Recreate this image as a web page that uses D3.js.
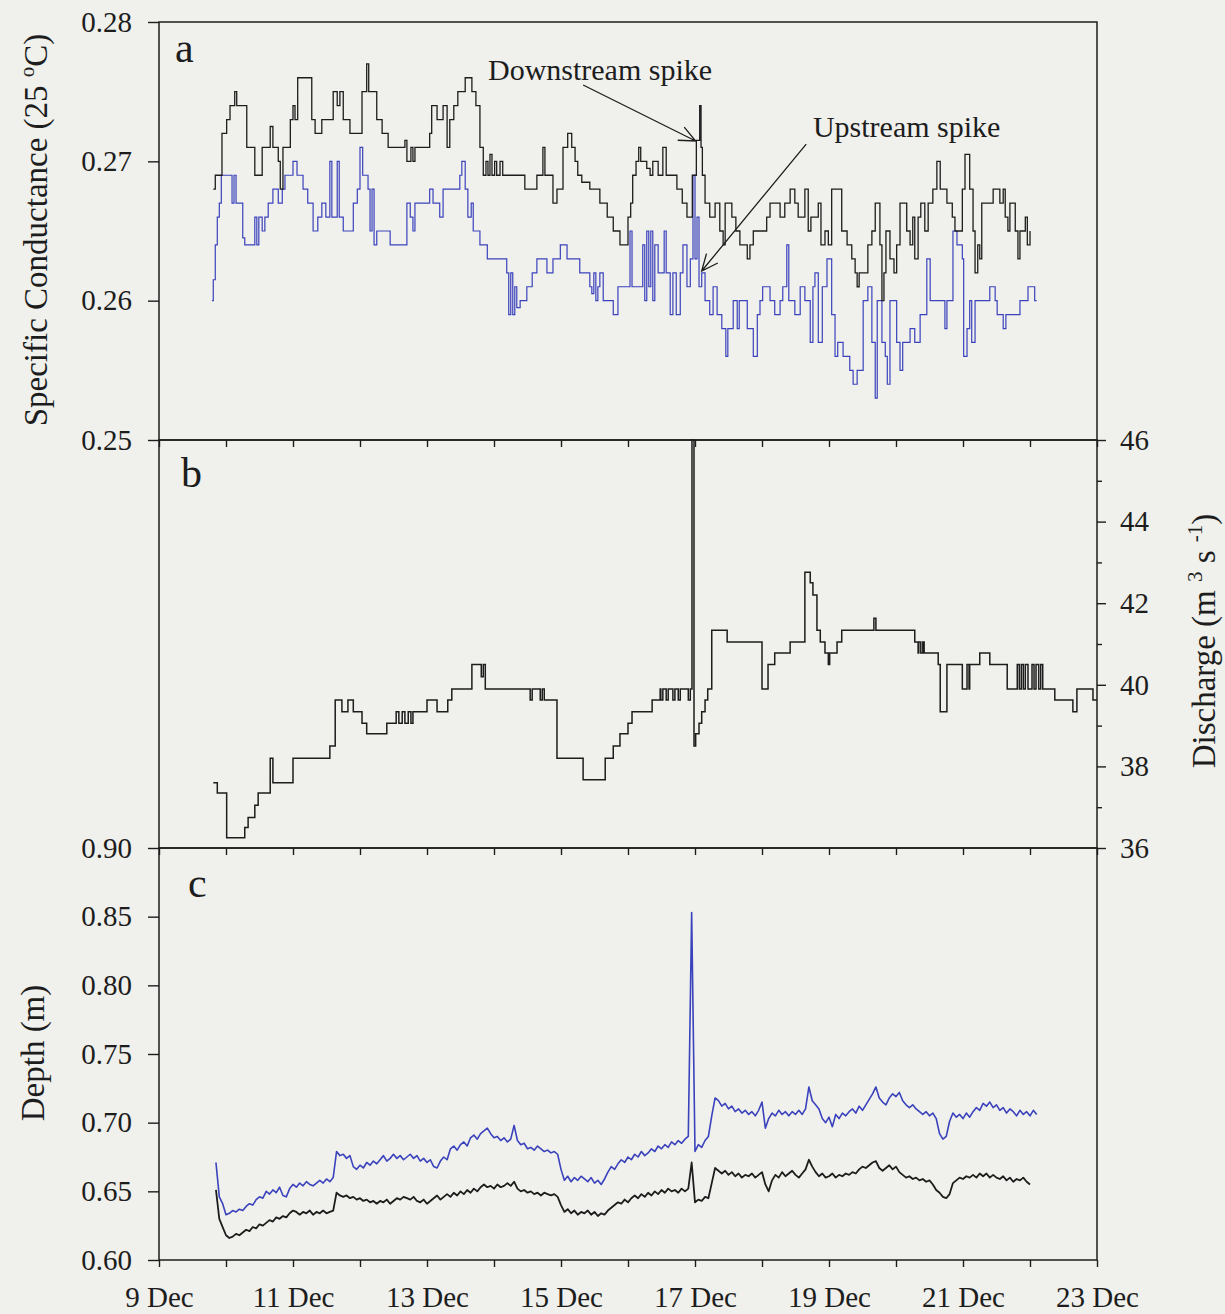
<!DOCTYPE html>
<html>
<head>
<meta charset="utf-8">
<title>Specific conductance, discharge and depth, 9–23 Dec</title>
<script src="https://cdn.jsdelivr.net/npm/d3@7"></script>
<style>
  html, body { margin: 0; padding: 0; background: #f0f0ec; }
  svg { display: block; }
</style>
</head>
<body>
<svg id="chart" width="1225" height="1314"></svg>
<script>
// ---------------------------------------------------------------------------
// Data. Time is the fractional day of December.
// ---------------------------------------------------------------------------
const dayTicks = [9, 10, 11, 12, 13, 14, 15, 16, 17, 18, 19, 20, 21, 22, 23];
const dayLabels = [9, 11, 13, 15, 17, 19, 21, 23];
const condTicks = [0.25, 0.26, 0.27, 0.28];
const dischargeTicks = [36, 38, 40, 42, 44, 46];
const dischargeMinorTicks = [37, 39, 41, 43, 45];
const depthTicks = [0.60, 0.65, 0.70, 0.75, 0.80, 0.85, 0.90];

// (a) specific conductance at 25 °C, logged as [day, value] steps
const condDownstream = [[9.81,0.268],[9.84,0.269],[9.94,0.272],[10.01,0.273],[10.06,0.274],[10.13,0.275],[10.16,0.274],[10.31,0.271],[10.43,0.269],[10.54,0.271],[10.66,0.2725],[10.70,0.271],[10.78,0.270],[10.81,0.268],[10.85,0.271],[10.96,0.273],[11.00,0.274],[11.03,0.273],[11.07,0.276],[11.28,0.273],[11.33,0.272],[11.43,0.273],[11.60,0.275],[11.66,0.274],[11.70,0.275],[11.75,0.273],[11.85,0.272],[12.03,0.275],[12.10,0.277],[12.13,0.275],[12.25,0.273],[12.33,0.272],[12.42,0.271],[12.67,0.2715],[12.70,0.270],[12.76,0.271],[12.79,0.270],[12.82,0.271],[13.04,0.272],[13.07,0.274],[13.15,0.273],[13.24,0.274],[13.30,0.271],[13.34,0.273],[13.40,0.274],[13.46,0.275],[13.57,0.276],[13.67,0.275],[13.73,0.274],[13.79,0.271],[13.84,0.269],[13.88,0.270],[13.91,0.269],[13.94,0.2705],[13.97,0.269],[14.01,0.270],[14.04,0.269],[14.09,0.270],[14.13,0.269],[14.46,0.268],[14.64,0.269],[14.73,0.271],[14.76,0.269],[14.88,0.267],[14.94,0.268],[15.03,0.271],[15.10,0.272],[15.16,0.271],[15.21,0.270],[15.25,0.269],[15.31,0.2685],[15.43,0.268],[15.58,0.267],[15.69,0.266],[15.78,0.265],[15.88,0.264],[16.00,0.266],[16.04,0.267],[16.07,0.269],[16.12,0.270],[16.16,0.271],[16.19,0.270],[16.28,0.2695],[16.33,0.269],[16.37,0.270],[16.45,0.269],[16.52,0.271],[16.57,0.269],[16.73,0.268],[16.81,0.267],[16.88,0.266],[16.96,0.269],[17.02,0.2715],[17.07,0.274],[17.09,0.271],[17.11,0.269],[17.15,0.267],[17.22,0.266],[17.30,0.267],[17.37,0.265],[17.42,0.264],[17.45,0.267],[17.55,0.266],[17.61,0.265],[17.67,0.264],[17.78,0.263],[17.82,0.264],[17.87,0.265],[18.07,0.266],[18.12,0.267],[18.27,0.266],[18.34,0.267],[18.42,0.268],[18.49,0.267],[18.54,0.266],[18.64,0.268],[18.69,0.265],[18.73,0.266],[18.84,0.267],[18.88,0.264],[18.94,0.265],[18.99,0.264],[19.04,0.268],[19.19,0.265],[19.27,0.264],[19.34,0.263],[19.39,0.262],[19.42,0.261],[19.45,0.262],[19.58,0.264],[19.64,0.265],[19.69,0.267],[19.76,0.264],[19.79,0.260],[19.82,0.262],[19.85,0.265],[19.91,0.263],[19.97,0.262],[20.01,0.264],[20.06,0.267],[20.16,0.265],[20.21,0.264],[20.25,0.266],[20.28,0.263],[20.33,0.266],[20.37,0.267],[20.43,0.265],[20.48,0.267],[20.55,0.268],[20.61,0.270],[20.66,0.268],[20.76,0.267],[20.84,0.266],[20.88,0.265],[20.99,0.268],[21.03,0.2705],[21.10,0.268],[21.15,0.265],[21.18,0.262],[21.22,0.264],[21.25,0.263],[21.28,0.267],[21.45,0.268],[21.55,0.267],[21.60,0.268],[21.63,0.266],[21.67,0.265],[21.70,0.267],[21.78,0.265],[21.82,0.263],[21.85,0.265],[21.93,0.266],[21.96,0.264],[22.00,0.265]];

const condUpstream = [[9.79,0.260],[9.81,0.2615],[9.84,0.264],[9.87,0.266],[9.90,0.267],[9.93,0.269],[10.09,0.267],[10.12,0.269],[10.15,0.267],[10.25,0.2645],[10.28,0.264],[10.43,0.266],[10.46,0.264],[10.49,0.266],[10.54,0.265],[10.58,0.266],[10.63,0.267],[10.70,0.268],[10.78,0.267],[10.84,0.268],[10.88,0.269],[11.00,0.270],[11.06,0.269],[11.15,0.268],[11.22,0.267],[11.30,0.265],[11.37,0.266],[11.43,0.267],[11.49,0.266],[11.55,0.270],[11.58,0.266],[11.66,0.270],[11.69,0.266],[11.75,0.265],[11.90,0.267],[11.96,0.268],[12.00,0.271],[12.04,0.269],[12.12,0.268],[12.15,0.265],[12.18,0.268],[12.21,0.264],[12.25,0.265],[12.45,0.264],[12.70,0.267],[12.75,0.266],[12.79,0.265],[12.82,0.267],[13.04,0.268],[13.09,0.267],[13.19,0.266],[13.24,0.268],[13.49,0.269],[13.52,0.270],[13.57,0.268],[13.61,0.266],[13.66,0.267],[13.69,0.265],[13.79,0.264],[13.90,0.263],[14.19,0.262],[14.22,0.259],[14.25,0.262],[14.28,0.259],[14.31,0.261],[14.34,0.2595],[14.39,0.260],[14.49,0.261],[14.57,0.262],[14.64,0.263],[14.79,0.262],[14.88,0.263],[14.99,0.264],[15.09,0.263],[15.28,0.262],[15.43,0.261],[15.46,0.2605],[15.49,0.262],[15.52,0.260],[15.55,0.261],[15.58,0.262],[15.63,0.260],[15.78,0.259],[15.85,0.261],[16.03,0.265],[16.06,0.261],[16.22,0.264],[16.25,0.260],[16.28,0.265],[16.31,0.261],[16.34,0.265],[16.37,0.260],[16.40,0.264],[16.45,0.262],[16.54,0.265],[16.57,0.262],[16.63,0.259],[16.67,0.262],[16.72,0.259],[16.78,0.262],[16.82,0.264],[16.88,0.261],[16.93,0.263],[16.97,0.269],[17.00,0.263],[17.03,0.266],[17.06,0.261],[17.10,0.262],[17.15,0.260],[17.22,0.259],[17.27,0.261],[17.33,0.259],[17.40,0.258],[17.46,0.256],[17.49,0.258],[17.57,0.260],[17.63,0.258],[17.66,0.260],[17.78,0.258],[17.87,0.256],[17.93,0.259],[17.97,0.260],[18.01,0.261],[18.12,0.260],[18.19,0.259],[18.27,0.260],[18.31,0.261],[18.37,0.264],[18.40,0.260],[18.49,0.259],[18.57,0.261],[18.64,0.260],[18.72,0.257],[18.76,0.261],[18.79,0.262],[18.84,0.257],[18.90,0.261],[18.97,0.263],[19.04,0.259],[19.09,0.256],[19.13,0.257],[19.21,0.256],[19.31,0.255],[19.36,0.254],[19.42,0.255],[19.51,0.260],[19.58,0.261],[19.64,0.257],[19.69,0.253],[19.72,0.260],[19.79,0.257],[19.84,0.256],[19.87,0.254],[19.91,0.260],[20.01,0.257],[20.06,0.255],[20.10,0.257],[20.21,0.258],[20.28,0.257],[20.36,0.259],[20.46,0.263],[20.51,0.260],[20.73,0.258],[20.76,0.260],[20.85,0.265],[20.91,0.264],[20.99,0.263],[21.01,0.256],[21.06,0.258],[21.10,0.260],[21.13,0.257],[21.18,0.260],[21.40,0.261],[21.48,0.260],[21.51,0.259],[21.60,0.258],[21.64,0.259],[21.85,0.260],[21.97,0.261],[22.07,0.260],[22.10,0.260]];

// (b) discharge, m3 s-1
const discharge = [[9.81,37.6],[9.87,37.35],[10.01,36.25],[10.28,36.5],[10.33,36.75],[10.43,37.05],[10.48,37.35],[10.66,38.2],[10.70,37.6],[11.00,38.2],[11.55,38.5],[11.63,39.63],[11.73,39.34],[11.82,39.63],[11.90,39.34],[12.03,39.06],[12.10,38.8],[12.40,39.06],[12.54,39.34],[12.58,39.06],[12.63,39.34],[12.67,39.06],[12.72,39.34],[12.76,39.06],[12.79,39.34],[13.00,39.63],[13.15,39.34],[13.31,39.63],[13.37,39.9],[13.67,40.5],[13.81,40.2],[13.84,40.5],[13.87,39.9],[14.54,39.63],[14.57,39.9],[14.69,39.63],[14.72,39.9],[14.75,39.63],[14.94,38.2],[15.33,37.67],[15.66,38.2],[15.78,38.5],[15.88,38.8],[16.00,39.06],[16.06,39.34],[16.36,39.63],[16.48,39.9],[16.49,39.63],[16.52,39.9],[16.57,39.63],[16.60,39.9],[16.67,39.63],[16.70,39.9],[16.75,39.63],[16.78,39.9],[16.90,39.63],[16.93,39.9],[16.955,46.0],[16.985,38.5],[17.01,38.8],[17.06,39.06],[17.10,39.34],[17.15,39.63],[17.19,39.9],[17.25,41.34],[17.48,41.05],[18.00,39.9],[18.09,40.5],[18.19,40.78],[18.42,41.05],[18.64,42.76],[18.72,42.5],[18.76,42.2],[18.82,41.34],[18.87,41.05],[18.94,40.78],[18.99,40.5],[19.01,40.78],[19.12,41.05],[19.19,41.34],[19.67,41.63],[19.70,41.34],[20.28,41.05],[20.33,40.78],[20.34,41.05],[20.37,40.78],[20.40,41.05],[20.42,40.78],[20.63,40.5],[20.66,39.34],[20.76,40.5],[20.99,39.9],[21.06,40.5],[21.09,39.9],[21.10,40.5],[21.25,40.78],[21.40,40.5],[21.66,39.9],[21.81,40.5],[21.84,39.9],[21.87,40.5],[21.90,39.9],[21.93,40.5],[21.97,39.9],[22.03,40.5],[22.06,39.9],[22.09,40.5],[22.13,39.9],[22.16,40.5],[22.19,39.9],[22.37,39.63],[22.64,39.34],[22.70,39.9],[22.94,39.63],[23.00,39.63]];

// (c) water depth (m), one reading every 0.05 day starting at day 9.85
const depthStart = 9.85;
const depthStep = 0.05;
const depthUpstream = [
  0.671,0.646,0.641,0.633,0.634,0.636,0.635,0.637,0.636,0.639,
  0.641,0.640,0.644,0.646,0.645,0.650,0.648,0.651,0.649,0.653,
  0.647,0.646,0.652,0.655,0.653,0.656,0.654,0.657,0.655,0.654,
  0.656,0.658,0.656,0.659,0.657,0.660,0.679,0.676,0.677,0.674,
  0.676,0.668,0.666,0.669,0.667,0.671,0.669,0.672,0.670,0.673,
  0.676,0.672,0.674,0.677,0.674,0.676,0.673,0.675,0.677,0.674,
  0.676,0.672,0.674,0.671,0.673,0.668,0.667,0.672,0.675,0.673,
  0.681,0.683,0.680,0.684,0.686,0.683,0.689,0.691,0.688,0.692,
  0.694,0.696,0.692,0.689,0.690,0.687,0.689,0.686,0.688,0.698,
  0.687,0.684,0.685,0.681,0.682,0.680,0.683,0.681,0.679,0.680,
  0.678,0.679,0.677,0.666,0.658,0.661,0.657,0.660,0.658,0.661,
  0.659,0.657,0.660,0.656,0.658,0.655,0.659,0.664,0.668,0.666,
  0.670,0.673,0.671,0.675,0.673,0.677,0.675,0.679,0.676,0.678,
  0.681,0.679,0.683,0.681,0.684,0.682,0.686,0.684,0.687,0.685,
  0.688,0.690,0.853,0.679,0.684,0.682,0.687,0.690,0.705,0.718,
  0.716,0.712,0.714,0.710,0.712,0.708,0.710,0.707,0.709,0.706,
  0.708,0.705,0.709,0.715,0.696,0.703,0.707,0.705,0.709,0.706,
  0.708,0.705,0.708,0.706,0.709,0.706,0.710,0.726,0.716,0.713,
  0.710,0.703,0.700,0.704,0.697,0.706,0.703,0.707,0.705,0.708,
  0.710,0.707,0.712,0.709,0.713,0.717,0.721,0.726,0.718,0.715,
  0.713,0.718,0.721,0.719,0.722,0.716,0.713,0.711,0.713,0.710,
  0.708,0.706,0.708,0.705,0.707,0.703,0.692,0.688,0.690,0.701,
  0.707,0.704,0.706,0.703,0.707,0.704,0.708,0.711,0.709,0.714,
  0.712,0.715,0.711,0.713,0.709,0.711,0.707,0.710,0.708,0.705,
  0.709,0.706,0.708,0.705,0.709,0.706
];
const depthDownstream = [
  0.651,0.630,0.624,0.618,0.616,0.617,0.619,0.618,0.620,0.622,
  0.621,0.624,0.623,0.626,0.625,0.627,0.629,0.628,0.631,0.630,
  0.632,0.631,0.634,0.636,0.635,0.633,0.635,0.634,0.636,0.633,
  0.635,0.634,0.636,0.634,0.635,0.636,0.649,0.647,0.646,0.647,
  0.645,0.646,0.644,0.645,0.643,0.644,0.642,0.643,0.641,0.643,
  0.642,0.644,0.641,0.643,0.645,0.644,0.646,0.645,0.644,0.646,
  0.643,0.642,0.644,0.641,0.643,0.645,0.647,0.644,0.646,0.648,
  0.646,0.649,0.647,0.650,0.648,0.651,0.649,0.652,0.650,0.653,
  0.655,0.653,0.654,0.652,0.655,0.653,0.654,0.656,0.654,0.657,
  0.652,0.650,0.651,0.649,0.650,0.648,0.649,0.647,0.649,0.648,
  0.647,0.648,0.646,0.640,0.635,0.637,0.634,0.636,0.633,0.635,
  0.634,0.636,0.633,0.635,0.632,0.634,0.633,0.636,0.638,0.640,
  0.642,0.641,0.644,0.642,0.645,0.647,0.645,0.648,0.646,0.649,
  0.647,0.650,0.648,0.651,0.649,0.652,0.650,0.651,0.649,0.652,
  0.650,0.652,0.671,0.642,0.644,0.643,0.646,0.645,0.656,0.667,
  0.665,0.663,0.665,0.662,0.664,0.661,0.663,0.660,0.662,0.661,
  0.663,0.660,0.662,0.664,0.655,0.650,0.658,0.662,0.660,0.664,
  0.661,0.663,0.665,0.662,0.660,0.663,0.666,0.673,0.668,0.664,
  0.661,0.663,0.660,0.661,0.663,0.660,0.662,0.661,0.663,0.662,
  0.664,0.663,0.666,0.668,0.667,0.669,0.671,0.672,0.667,0.665,
  0.667,0.669,0.666,0.668,0.664,0.662,0.660,0.661,0.659,0.660,
  0.658,0.659,0.657,0.658,0.655,0.651,0.649,0.646,0.645,0.648,
  0.656,0.658,0.660,0.659,0.661,0.660,0.662,0.660,0.663,0.661,
  0.663,0.660,0.662,0.660,0.659,0.661,0.658,0.660,0.657,0.659,
  0.658,0.660,0.657,0.655
];

// Call-outs in panel (a): label anchor, arrow tail and arrow tip, in data units
const annotations = [
  { label: "Downstream spike", at: [13.91, 0.27584], from: [15.33, 0.27548], to: [17.01, 0.27146] },
  { label: "Upstream spike",   at: [18.76, 0.27175], from: [18.66, 0.27124], to: [17.10, 0.26213] }
];

// ---------------------------------------------------------------------------
// Drawing
// ---------------------------------------------------------------------------
const W = 1225, H = 1314;
const FONT = '"Liberation Serif", "Times New Roman", Times, serif';
const INK = "#1d1d1d";
const BLUE = "#3a42bc";
const BG = "#f0f0ec";
const left = 159, right = 1097;

const x  = d3.scaleLinear().domain([9, 23]).range([left, right]);
const yA = d3.scaleLinear().domain([0.25, 0.28]).range([440, 22]);
const yB = d3.scaleLinear().domain([36, 46]).range([848, 440]);
const yC = d3.scaleLinear().domain([0.60, 0.90]).range([1260, 848]);

const svg = d3.select("#chart");
svg.append("rect").attr("width", W).attr("height", H).attr("fill", BG);

const defs = svg.append("defs");
[["clipA", yA], ["clipB", yB], ["clipC", yC]].forEach(([id, y]) => {
  const [b, t] = y.range();
  defs.append("clipPath").attr("id", id).append("rect")
    .attr("x", left).attr("y", t - 1).attr("width", right - left).attr("height", b - t + 2);
});

function styleAxis(g, size) {
  g.attr("font-family", FONT).attr("font-size", size).attr("color", INK);
  g.select(".domain").remove();
  g.selectAll(".tick line").attr("stroke-width", 1.4);
  return g;
}

// Day ticks below every panel; dates only under the bottom one
[[yA, false], [yB, false], [yC, true]].forEach(([y, labelled]) => {
  svg.append("g")
    .attr("transform", `translate(0,${y.range()[0]})`)
    .call(d3.axisBottom(x).tickValues(dayTicks).tickSize(7).tickPadding(19)
      .tickFormat(d => labelled && dayLabels.includes(d) ? `${d} Dec` : ""))
    .call(g => styleAxis(g, 29));
});

// Left axes: conductance (a) and depth (c)
svg.append("g").attr("transform", `translate(${left},0)`)
  .call(d3.axisLeft(yA).tickValues(condTicks).tickFormat(d3.format(".2f")).tickSize(11).tickPadding(16))
  .call(g => styleAxis(g, 29));
svg.append("g").attr("transform", `translate(${left},0)`)
  .call(d3.axisLeft(yC).tickValues(depthTicks).tickFormat(d3.format(".2f")).tickSize(11).tickPadding(16))
  .call(g => styleAxis(g, 29));

// Right axis: discharge (b)
svg.append("g").attr("transform", `translate(${right},0)`)
  .call(d3.axisRight(yB).tickValues(dischargeTicks).tickFormat(d3.format("d")).tickSize(9).tickPadding(14))
  .call(g => styleAxis(g, 29));
svg.append("g").attr("transform", `translate(${right},0)`)
  .call(d3.axisRight(yB).tickValues(dischargeMinorTicks).tickFormat("").tickSize(5))
  .call(g => styleAxis(g, 29));

// Series
const stepLine = y => d3.line().x(d => x(d[0])).y(d => y(d[1])).curve(d3.curveStepAfter);
const depthLine = d3.line().x((d, i) => x(depthStart + i * depthStep)).y(d => yC(d));

const gA = svg.append("g").attr("clip-path", "url(#clipA)").attr("fill", "none");
gA.append("path").datum(condUpstream).attr("d", stepLine(yA))
  .attr("stroke", BLUE).attr("stroke-width", 1.2);
gA.append("path").datum(condDownstream).attr("d", stepLine(yA))
  .attr("stroke", INK).attr("stroke-width", 1.3);

const gB = svg.append("g").attr("clip-path", "url(#clipB)").attr("fill", "none");
gB.append("path").datum(discharge).attr("d", stepLine(yB))
  .attr("stroke", INK).attr("stroke-width", 1.5);

const gC = svg.append("g").attr("clip-path", "url(#clipC)").attr("fill", "none");
gC.append("path").datum(depthDownstream).attr("d", depthLine)
  .attr("stroke", INK).attr("stroke-width", 1.8).attr("stroke-linejoin", "round");
gC.append("path").datum(depthUpstream).attr("d", depthLine)
  .attr("stroke", BLUE).attr("stroke-width", 1.6).attr("stroke-linejoin", "round");

// Panel frames
[yA, yB, yC].forEach(y => {
  const [b, t] = y.range();
  svg.append("rect").attr("x", left).attr("y", t).attr("width", right - left).attr("height", b - t)
    .attr("fill", "none").attr("stroke", INK).attr("stroke-width", 1.5);
});

// Call-outs with open arrowheads
annotations.forEach(a => {
  const x0 = x(a.from[0]), y0 = yA(a.from[1]);
  const x1 = x(a.to[0]), y1 = yA(a.to[1]);
  const ang = Math.atan2(y1 - y0, x1 - x0);
  const len = 18, spread = 0.42;
  const wing = s => [x1 - len * Math.cos(ang + s), y1 - len * Math.sin(ang + s)];
  const w1 = wing(spread), w2 = wing(-spread);
  svg.append("path")
    .attr("d", `M${x0},${y0}L${x1},${y1}M${w1[0]},${w1[1]}L${x1},${y1}L${w2[0]},${w2[1]}`)
    .attr("fill", "none").attr("stroke", INK).attr("stroke-width", 1.3);
  svg.append("text")
    .attr("x", x(a.at[0])).attr("y", yA(a.at[1]))
    .attr("font-family", FONT).attr("font-size", 30).attr("fill", INK)
    .text(a.label);
});

// Panel letters
[["a", yA, 16, 40], ["b", yB, 22, 47], ["c", yC, 29, 49]].forEach(([letter, y, dx, dy]) => {
  svg.append("text")
    .attr("x", left + dx).attr("y", y.range()[1] + dy)
    .attr("font-family", FONT).attr("font-size", 42).attr("fill", INK)
    .text(letter);
});

// Axis titles
const t1 = svg.append("text")
  .attr("transform", "translate(47,230) rotate(-90)")
  .attr("text-anchor", "middle").attr("font-family", FONT).attr("font-size", 33).attr("fill", INK);
t1.append("tspan").text("Specific Conductance (25 ");
t1.append("tspan").attr("font-size", 21).attr("dy", -13).text("o");
t1.append("tspan").attr("dy", 13).text("C)");

svg.append("text")
  .attr("transform", "translate(44,1053) rotate(-90)")
  .attr("text-anchor", "middle").attr("font-family", FONT).attr("font-size", 33).attr("fill", INK)
  .text("Depth (m)");

const t3 = svg.append("text")
  .attr("transform", "translate(1215,641) rotate(-90)")
  .attr("text-anchor", "middle").attr("font-family", FONT).attr("font-size", 33).attr("fill", INK);
t3.append("tspan").text("Discharge (m ");
t3.append("tspan").attr("font-size", 21).attr("dy", -13).text("3");
t3.append("tspan").attr("dy", 13).text(" s ");
t3.append("tspan").attr("font-size", 21).attr("dy", -13).text("-1");
t3.append("tspan").attr("dy", 13).text(")");
</script>
</body>
</html>
